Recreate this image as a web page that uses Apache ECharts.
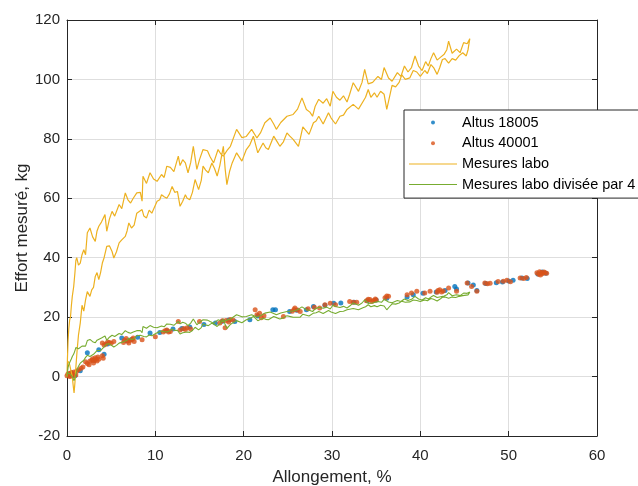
<!DOCTYPE html>
<html>
<head>
<meta charset="utf-8">
<script src="https://cdn.jsdelivr.net/npm/echarts@6/dist/echarts.min.js"></script>
<style>
  html, body { margin: 0; padding: 0; background: #fff; }
  #chart { width: 638px; height: 486px; }
</style>
</head>
<body>
<div id="chart"></div>
<script>
// Axis settings
const xTicks = { min: 0, max: 60, interval: 10 };
const yTicks = { min: -20, max: 120, interval: 20 };

// Sensor readings: [elongation %, force kg]
const altus18005 = [
  [0.2,0.5],[0.5,1.2],[0.9,0.3],[1.5,2.0],[2.3,8.0],[3.0,5.5],[3.6,9.0],[4.2,7.5],[4.6,11.0],
  [6.2,13.0],[6.8,12.0],[7.3,12.5],[8.0,13.2],[9.4,14.7],[10.5,14.8],[11.3,15.4],[12.0,16.0],
  [13.0,16.2],[13.9,16.7],[15.5,17.5],[16.8,18.0],[17.6,18.6],[18.3,19.0],[19.0,18.5],[20.7,19.1],
  [21.6,20.4],[23.3,22.5],[23.6,22.5],[25.2,21.9],[26.0,22.3],[27.1,22.5],[27.9,23.6],[29.2,24.0],
  [30.2,24.7],[31.0,24.8],[32.5,25.0],[34.0,25.5],[35.0,25.8],[36.2,26.4],[38.5,26.8],[39.2,27.5],
  [40.3,28.0],[41.8,28.5],[42.8,29.0],[43.9,30.3],[44.1,29.5],[45.4,31.5],[46.0,30.8],[46.4,29.0],
  [47.4,31.3],[48.6,31.6],[49.3,31.8],[50.0,32.2],[50.5,32.4],[51.5,33.2],[52.1,33.0],[53.3,34.5],
  [53.8,35.2],[54.2,34.8]
];
const altus40001 = [
  [0.0,0.3],[0.1,0.9],[0.2,1.0],[0.3,0.0],[0.4,0.2],[0.5,1.4],[0.6,0.8],[0.7,0.2],[0.8,1.5],
  [1.0,0.5],[1.1,1.8],[1.3,2.3],[1.6,2.8],[1.8,3.2],[2.1,5.0],[2.3,4.4],[2.5,4.0],[2.6,5.2],
  [2.8,5.5],[2.9,6.0],[3.0,4.6],[3.1,5.4],[3.2,6.3],[3.3,5.8],[3.4,5.2],[3.6,5.8],[3.5,6.6],
  [4.0,7.0],[4.1,6.2],[4.0,11.3],[4.2,10.6],[4.4,11.0],[4.6,11.6],[4.8,11.5],[5.0,11.2],[5.3,11.8],
  [6.4,11.5],[6.5,12.2],[6.7,12.8],[6.9,12.0],[7.0,11.3],[7.2,12.2],[7.4,12.6],[7.5,13.0],[7.6,11.8],
  [8.5,12.4],[10.0,13.4],[10.9,15.0],[11.1,15.4],[11.3,15.7],[11.5,15.0],[11.7,15.2],[12.6,18.5],
  [12.8,15.7],[13.2,16.2],[13.4,15.8],[13.6,16.4],[14.0,16.0],[15.0,18.5],[17.3,18.0],[17.6,18.8],
  [17.9,16.4],[18.0,18.9],[18.3,18.4],[18.5,19.2],[18.8,19.0],[21.3,22.5],[21.5,20.8],[21.8,21.3],
  [22.0,19.8],[22.3,20.5],[24.5,20.2],[25.5,22.0],[25.7,22.6],[25.8,23.1],[26.1,22.4],[26.4,21.9],
  [27.3,22.8],[28.0,23.3],[28.6,23.1],[29.2,24.2],[29.8,24.7],[30.4,24.2],[32.0,25.3],[32.4,25.0],
  [32.8,25.0],[33.9,25.5],[34.1,26.0],[34.3,25.9],[34.5,25.3],[34.7,25.6],[34.9,26.1],[35.0,25.8],
  [36.0,26.5],[36.2,27.1],[36.4,27.0],[38.5,27.5],[39.0,28.1],[39.6,28.7],[40.5,28.1],[41.1,28.7],
  [41.9,28.4],[42.0,29.0],[42.2,29.2],[42.4,28.5],[42.6,28.8],[43.2,29.8],[44.1,28.7],[45.3,31.5],
  [45.8,30.3],[46.4,28.7],[47.3,31.5],[47.6,31.2],[47.9,31.4],[48.8,32.0],[49.4,32.1],[49.8,32.4],
  [50.2,31.9],[51.3,33.2],[51.7,33.0],[52.0,33.3],[53.2,34.9],[53.4,34.4],[53.5,35.3],[53.7,35.0],
  [53.8,34.6],[54.0,35.2],[54.1,34.9],[53.6,34.2],[54.3,34.8]
];

// Lab test: loading branch (rising) then unloading branch (back to origin)
const laboLoading = [
  [0,0],[0.05,6],[0.12,12],[0.2,16],[0.3,19],[0.4,20.2],[0.5,24],[0.6,27],[0.76,30.3],[0.9,35],
  [1.0,39],[1.1,40],[1.3,37.5],[1.5,38.2],[1.7,41],[1.9,42.7],[2.1,41],[2.3,48.4],[2.6,50],[2.9,47],
  [3.2,45.5],[3.4,49],[3.6,50.6],[3.9,52],[4.3,54.5],[4.5,48.9],[4.8,53],[5.1,55.6],[5.4,54],
  [5.9,57.9],[6.2,56.5],[6.6,61.8],[6.9,59.5],[7.2,58.4],[7.5,60],[7.9,61.8],[8.3,62],[8.5,59],
  [8.6,67.4],[9.0,65],[9.4,68.6],[9.8,66.5],[10.2,65.7],[10.7,68],[11.0,67],[11.3,70.8],[11.7,70.4],
  [12.1,69],[12.6,74.2],[12.8,71],[13.1,73],[13.4,71.9],[13.7,68.6],[14.0,72],[14.3,77.5],[14.7,69.7],
  [15.0,73],[15.4,76.4],[15.9,76],[16.2,74],[16.6,71.9],[17.1,76.4],[17.4,75],[17.7,74.2],[18.1,76],
  [18.5,77.5],[19.2,83.2],[19.8,80.4],[20.3,80.8],[20.9,83.2],[21.5,80.3],[21.9,82],[22.4,85.4],
  [23.0,87],[23.4,85],[23.7,83.2],[24.2,85.5],[24.9,87.6],[25.6,88.2],[26.1,90],[26.6,93.8],
  [27.1,89.9],[27.5,89],[27.8,87.6],[28.1,91],[28.5,93.3],[29.0,92],[29.4,93.5],[29.8,91],[30.1,96],
  [30.5,94],[30.9,93],[31.3,94.5],[31.7,92.4],[32.0,95],[32.4,98.9],[33.0,96],[33.4,99],[33.7,103.4],
  [34.1,98.5],[34.6,99],[35.2,101],[35.6,100],[35.9,104],[36.4,100.5],[36.8,99.4],[37.4,102.3],
  [37.8,101],[38.2,104.5],[38.6,102.5],[39.0,104],[39.4,107.9],[39.8,104.5],[40.2,103],[40.6,106],
  [40.9,104.5],[41.2,107],[41.5,109],[41.9,106.5],[42.3,107.5],[42.7,108.5],[43.0,110],[43.2,112.9],
  [43.6,108.8],[44.1,110.2],[44.5,109],[44.9,112.4],[45.3,112],[45.6,113.7]
];
const laboUnloading = [
  [45.4,110],[45.2,107.9],[44.8,109],[44.4,108],[44.0,106.5],[43.6,107],[43.2,105.5],[42.8,107],
  [42.5,106.7],[42.2,104],[41.9,101.7],[41.5,104],[41.2,105],[40.8,102],[40.5,103],[40.0,101],
  [39.6,102.5],[39.2,103],[38.8,100.5],[38.3,100],[37.9,101.5],[37.6,99],[37.2,97.5],[36.8,98],
  [36.5,94],[36.2,89.9],[35.9,95],[35.5,96],[35.1,94],[34.8,95.5],[34.4,94],[34.1,96.6],[33.8,94],
  [33.5,92.5],[33.0,90],[32.4,91.6],[31.7,89.9],[31.3,88],[30.9,87.6],[30.4,85],[29.9,87],[29.6,88.8],
  [29.0,85],[28.5,87.6],[28.2,86],[27.9,85.4],[27.4,81.5],[26.7,84],[26.4,80],[26.2,77.5],[25.6,79.8],
  [25.2,81],[24.9,82],[24.5,79],[24.1,77.5],[23.8,79],[23.4,80.9],[22.8,76.4],[22.5,77],[22.2,78.6],
  [21.6,75.3],[21.1,80.9],[20.7,78],[20.3,76.4],[19.8,72.5],[19.2,75.3],[18.7,71.9],[18.4,69],
  [18.1,64.6],[17.9,70],[17.7,77.5],[17.3,71],[17.0,67.5],[16.7,70],[16.4,71.9],[16.0,68.6],
  [15.7,69.5],[15.4,70.8],[15.2,66],[14.9,62.9],[14.5,66.3],[14.2,62],[13.9,59.5],[13.6,60],
  [13.4,61.2],[13.1,59],[12.8,57.3],[12.5,62.3],[12.2,62],[11.9,64],[11.6,61.5],[11.3,60],[11.0,60.5],
  [10.7,61.2],[10.5,59.5],[10.2,59],[9.9,57],[9.6,55],[9.3,56],[9.0,53.4],[8.7,54],[8.5,56.2],
  [8.3,55.6],[7.9,55],[7.6,51],[7.3,50],[7.0,51.7],[6.8,49],[6.6,47.2],[6.2,46],[5.9,45],[5.6,42],
  [5.3,39.9],[5.1,42.1],[4.8,44],[4.5,43.8],[4.2,40],[4.0,38.2],[3.8,35],[3.6,32.6],[3.4,35],
  [3.2,33.7],[3.0,30],[2.8,29.2],[2.6,27],[2.3,28.6],[2.1,25.8],[1.9,22],[1.7,24],[1.5,18],[1.3,14],
  [1.15,9],[1.0,3],[0.9,-2],[0.8,-5.5],[0.7,-3],[0.6,0],[0.45,2],[0.3,4],[0.15,5],[0,5]
];

const labo = laboLoading.concat(laboUnloading);
// Same lab measurements with the force divided by 4
const laboQuarter = labo.map(p => [p[0], p[1] / 4]);

const txt = '#262626';
const font = 'Liberation Sans, Arial, Helvetica, sans-serif';
// Legend glyphs drawn inside a 48x14 slot: a small centred dot, or a thin line
const dotIcon = 'path://M0,0M48,14M22,7a2,2 0 1,0 4,0a2,2 0 1,0 -4,0Z';
const lineIcon = 'path://M0,0M48,14M0,6.5L48,6.5L48,7.5L0,7.5Z';

const chart = echarts.init(document.getElementById('chart'));

const baseX = {
  type: 'value', min: xTicks.min, max: xTicks.max, interval: xTicks.interval,
  axisLine: { show: true, onZero: false, lineStyle: { color: txt, width: 1 } },
  axisTick: { show: true, inside: true, length: 5, lineStyle: { color: txt } }
};
const baseY = {
  type: 'value', min: yTicks.min, max: yTicks.max, interval: yTicks.interval,
  axisLine: { show: true, onZero: false, lineStyle: { color: txt, width: 1 } },
  axisTick: { show: true, inside: true, length: 5, lineStyle: { color: txt } }
};

chart.setOption({
  animation: false,
  backgroundColor: '#fff',
  textStyle: { fontFamily: font },
  grid: { left: 67, right: 41, top: 20, bottom: 50, containLabel: false, outerBoundsMode: 'none' },
  xAxis: [
    Object.assign({}, baseX, {
      position: 'bottom',
      name: 'Allongement, %', nameLocation: 'middle', nameGap: 33, nameMoveOverlap: false,
      nameTextStyle: { color: txt, fontSize: 17, fontFamily: font },
      axisLabel: { color: txt, fontSize: 15, margin: 12, fontFamily: font },
      splitLine: { show: true, lineStyle: { color: '#dedede', width: 1 } }
    }),
    Object.assign({}, baseX, {
      position: 'top', axisLabel: { show: false }, splitLine: { show: false }
    })
  ],
  yAxis: [
    Object.assign({}, baseY, {
      position: 'left',
      name: 'Effort mesuré, kg', nameLocation: 'middle', nameGap: 36, nameMoveOverlap: false,
      nameTextStyle: { color: txt, fontSize: 17, fontFamily: font },
      axisLabel: { color: txt, fontSize: 15, margin: 7, fontFamily: font },
      splitLine: { show: true, lineStyle: { color: '#dedede', width: 1 } }
    }),
    Object.assign({}, baseY, {
      position: 'right', axisLabel: { show: false }, splitLine: { show: false }
    })
  ],
  legend: {
    orient: 'vertical',
    left: 404, top: 110,
    padding: [5, 6, 6, 5],
    itemWidth: 48, itemHeight: 14, itemGap: 5.7,
    backgroundColor: '#fff',
    borderColor: txt, borderWidth: 1, borderRadius: 0,
    selectedMode: false,
    textStyle: { color: '#000', fontSize: 14.5, fontFamily: font },
    data: [
      { name: 'Altus 18005', icon: dotIcon },
      { name: 'Altus 40001', icon: dotIcon },
      { name: 'Mesures labo', icon: lineIcon },
      { name: 'Mesures labo divisée par 4', icon: lineIcon }
    ],
    z: 10
  },
  series: [
    {
      name: 'Altus 18005', type: 'scatter', data: altus18005,
      symbol: 'circle', symbolSize: 5,
      itemStyle: { color: '#0072BD' }, emphasis: { disabled: true }
    },
    {
      name: 'Altus 40001', type: 'scatter', data: altus40001,
      symbol: 'circle', symbolSize: 5,
      itemStyle: { color: '#D95319' }, emphasis: { disabled: true }
    },
    {
      name: 'Mesures labo', type: 'line', data: labo,
      symbol: 'none', showSymbol: false,
      lineStyle: { color: '#EDB120', width: 1.2 }, itemStyle: { color: '#EDB120' },
      emphasis: { disabled: true }
    },
    {
      name: 'Mesures labo divisée par 4', type: 'line', data: laboQuarter,
      symbol: 'none', showSymbol: false,
      lineStyle: { color: '#77AC30', width: 1.1 }, itemStyle: { color: '#77AC30' },
      emphasis: { disabled: true }
    }
  ]
});
</script>
</body>
</html>
